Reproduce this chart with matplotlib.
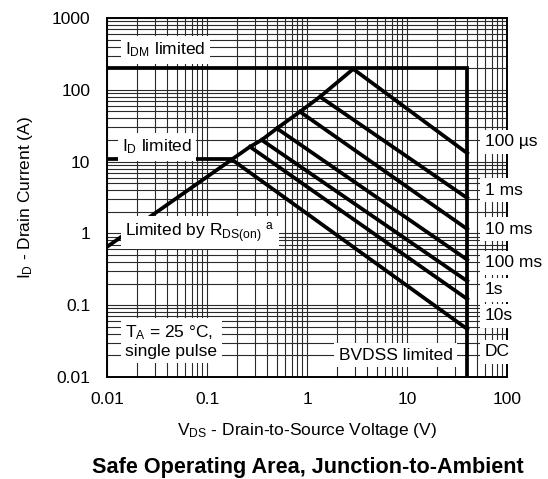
import numpy as np
import matplotlib.pyplot as plt
from matplotlib.ticker import LogLocator, NullFormatter, FixedLocator, FixedFormatter

plt.rcParams['font.family'] = ['Liberation Sans', 'DejaVu Sans']
plt.rcParams['mathtext.fontset'] = 'custom'
plt.rcParams['mathtext.rm'] = 'Liberation Sans'

# Pulse-duration lines: start on the RDS(on) line, end at BVDSS
pulse_labels = ['100 µs', '1 ms', '10 ms', '100 ms', '1s', '10s', 'DC']
v_start = [2.9, 1.35, 0.85, 0.50, 0.352, 0.269, 0.177]
i_start = [195, 80, 49.5, 29, 20, 16.1, 10.7]
i_end = [13.1, 3.11, 1.15, 0.43, 0.217, 0.122, 0.0466]
label_i = [18.8, 4.0, 1.15, 0.39, 0.163, 0.071, 0.0225]

v_bvdss = 40      # V
i_dm = 200        # A, pulsed limit
i_d = 10.7        # A, continuous limit
rds_v0, rds_i0 = 0.01, 0.65   # RDS(on) line at left edge

x_ticks = [0.01, 0.1, 1, 10, 100]
x_labels = ['0.01', '0.1', '1', '10', '100']
y_ticks = [0.01, 0.1, 1, 10, 100, 1000]
y_labels = ['0.01', '0.1', '1', '10', '100', '1000']

fig = plt.figure(figsize=(5.48, 4.79), dpi=100)
ax = fig.add_axes([107/548, 1 - 377/479, 400/548, 359/479])
ax.set_xscale('log')
ax.set_yscale('log')
ax.set_xlim(0.01, 100)
ax.set_ylim(0.01, 1000)

# grid
ax.xaxis.set_major_locator(FixedLocator(x_ticks))
ax.xaxis.set_major_formatter(FixedFormatter(x_labels))
ax.yaxis.set_major_locator(FixedLocator(y_ticks))
ax.yaxis.set_major_formatter(FixedFormatter(y_labels))
ax.xaxis.set_minor_locator(LogLocator(base=10, subs=np.arange(2, 10)))
ax.yaxis.set_minor_locator(LogLocator(base=10, subs=np.arange(2, 10)))
ax.xaxis.set_minor_formatter(NullFormatter())
ax.yaxis.set_minor_formatter(NullFormatter())
ax.grid(True, which='both', color='#2a2a2a', lw=0.8)
ax.tick_params(which='both', length=0, labelsize=12.5)
ax.tick_params(axis='x', pad=11)
ax.tick_params(axis='y', pad=12)
for s in ax.spines.values():
    s.set_linewidth(1.4)

lw = 2.7
# IDM limit and BVDSS limit
ax.plot([0.01, v_bvdss, v_bvdss], [i_dm, i_dm, 0.01], color='black', lw=lw,
        solid_joinstyle='miter', zorder=3)
# ID limit
ax.plot([0.01, v_start[-1]], [i_d, i_d], color='black', lw=lw, zorder=3)
# RDS(on) line
ax.plot([rds_v0] + v_start[::-1], [rds_i0] + i_start[::-1], color='black', lw=lw, zorder=3)
# pulse lines
for vs, i0, i1 in zip(v_start, i_start, i_end):
    ax.plot([vs, v_bvdss], [i0, i1], color='black', lw=lw, zorder=3)

box = dict(boxstyle='square,pad=0.25', facecolor='white', edgecolor='none')
fs = 12.5
for lab, yi in zip(pulse_labels, label_i):
    ax.text(60, yi, lab, fontsize=fs, ha='left', va='center', bbox=box, zorder=5,
            clip_on=False)

ax.text(0.0151, 358, r'$\mathregular{I_{DM}}$ limited', fontsize=fs, va='center', bbox=box, zorder=5)
ax.text(0.0141, 16, r'$\mathregular{I_{D}}$ limited', fontsize=fs, va='center', bbox=box, zorder=5)
ax.text(0.0151, 1.02, r'Limited by $\mathregular{R_{DS(on)}}$ $\mathregular{^{a}}$', fontsize=fs,
        va='center', bbox=box, zorder=5)
ax.text(0.0153, 0.0316, r'$\mathregular{T_{A}}$ = 25 °C,' + '\nsingle pulse', fontsize=fs,
        va='center', bbox=box, zorder=5, linespacing=1.1)
ax.text(7.67, 0.0202, 'BVDSS limited', fontsize=fs, ha='center', va='center', bbox=box, zorder=5)

ax.set_xlabel(r'$\mathregular{V_{DS}}$ - Drain-to-Source Voltage (V)', fontsize=fs, labelpad=10)
ax.set_ylabel(r'$\mathregular{I_{D}}$ - Drain Current (A)', fontsize=fs, labelpad=12)

fig.text(308/548, 1 - 468/479, 'Safe Operating Area, Junction-to-Ambient', fontsize=15.6,
         fontweight='bold', ha='center', va='center')

fig.savefig('out.png', dpi=100)
